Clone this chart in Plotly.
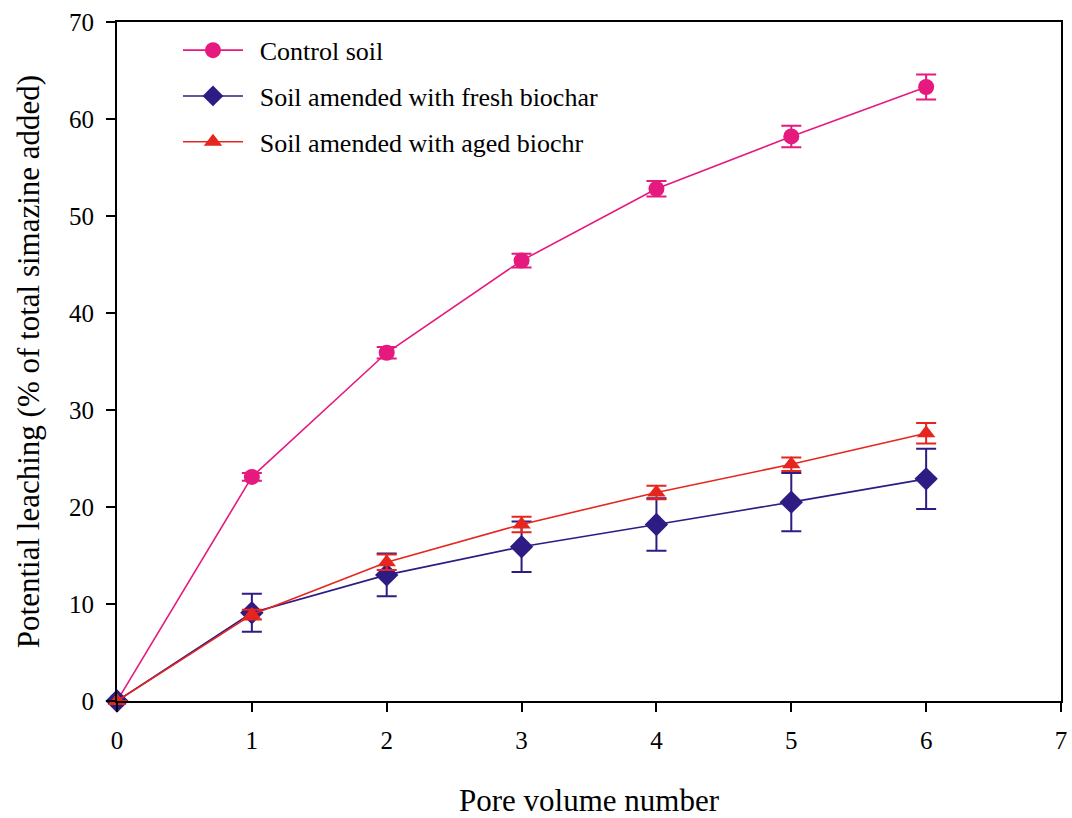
import plotly.graph_objects as go

pore_volume = [0, 1, 2, 3, 4, 5, 6]

control_soil = [0, 23.1, 35.9, 45.4, 52.8, 58.2, 63.3]
control_err = [0, 0.4, 0.6, 0.7, 0.8, 1.1, 1.3]

fresh_biochar = [0, 9.1, 13.0, 15.9, 18.2, 20.5, 22.9]
fresh_err = [0, 1.95, 2.2, 2.6, 2.7, 3.0, 3.1]

aged_biochar = [0, 8.9, 14.3, 18.2, 21.5, 24.4, 27.6]
aged_err = [0, 0.5, 0.8, 0.8, 0.7, 0.7, 1.05]

x_ticks = [0, 1, 2, 3, 4, 5, 6, 7]
y_ticks = [0, 10, 20, 30, 40, 50, 60, 70]

FONT = "Times New Roman, Liberation Serif, Times, serif"
NB = "\u00a0\u2009"

series = [
    ("Control soil", control_soil, control_err, "#E6197E", "circle", 16),
    ("Soil amended with fresh biochar", fresh_biochar, fresh_err, "#2E1C84", "diamond", 18),
    ("Soil amended with aged biochr", aged_biochar, aged_err, "#E6261E", "triangle-up", 16),
]

fig = go.Figure()
for i, (name, ys, err, color, sym, size) in enumerate(series):
    fig.add_trace(go.Scatter(
        x=pore_volume, y=ys, name=NB + name, mode="lines+markers",
        legendgroup=f"g{i}",
        line=dict(color=color, width=1.6),
        marker=dict(color=color, symbol=sym, size=size),
        error_y=dict(type="data", array=err, visible=True, color=color,
                     thickness=2, width=10),
        cliponaxis=False,
    ))

axis_common = dict(
    showline=True, linecolor="black", linewidth=2, mirror=True,
    ticks="outside", ticklen=9, tickwidth=1.5, tickcolor="black",
    showgrid=False, zeroline=False, automargin=False,
    tickfont=dict(family=FONT, size=25, color="black"),
)

fig.update_xaxes(range=[0, 7], tickvals=x_ticks, ticklabelstandoff=7,
                 title=dict(text="Pore volume number", font=dict(family=FONT, size=31, color="black"), standoff=40),
                 **axis_common)
fig.update_yaxes(range=[0, 70], tickvals=y_ticks, ticklabelstandoff=7,
                 title=dict(text="Potential leaching (% of total simazine added)", font=dict(family=FONT, size=31, color="black"), standoff=20),
                 **axis_common)

fig.update_layout(
    width=1072, height=818,
    margin=dict(l=117, r=11, t=22, b=117),
    paper_bgcolor="white", plot_bgcolor="white",
    showlegend=True,
    legend=dict(x=0.0646, y=0.993, xanchor="left", yanchor="top",
                font=dict(family=FONT, size=26, color="black"),
                bgcolor="rgba(0,0,0,0)", itemwidth=60,
                traceorder="grouped", tracegroupgap=9),
)

fig.write_html("out.html")
